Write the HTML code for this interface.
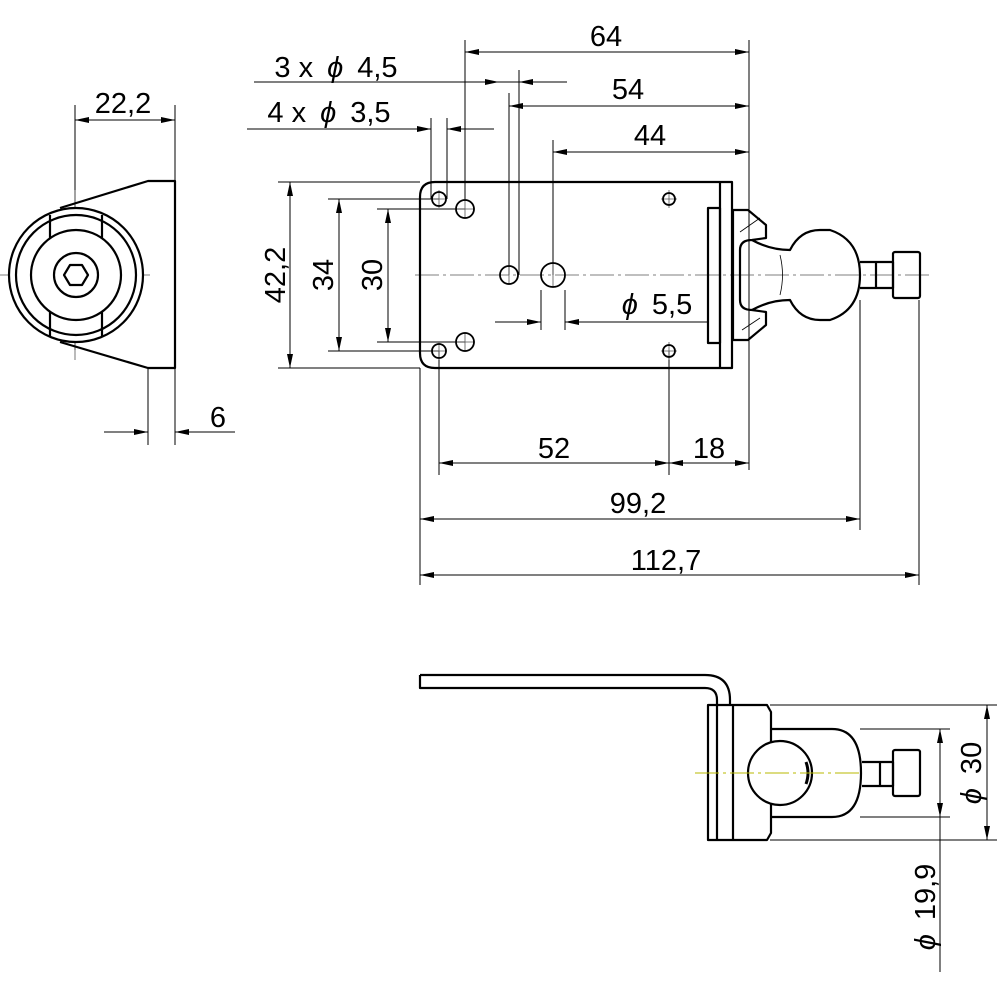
<!DOCTYPE html>
<html><head><style>body{margin:0;background:#fff}svg{display:block}</style></head><body>
<svg width="1000" height="1000" viewBox="0 0 1000 1000" xmlns="http://www.w3.org/2000/svg" font-family="Liberation Sans, DejaVu Sans, sans-serif">
<defs>
<marker id="a" viewBox="0 0 14 6" refX="14" refY="3" markerWidth="14" markerHeight="6" markerUnits="userSpaceOnUse" orient="auto-start-reverse"><path d="M0,0L14,3L0,6z" fill="#000"/></marker>
</defs>
<g stroke="#000" stroke-width="1" fill="none">
<path d="M465,40V200M749,40V470M509,93V275M519,70V275M553,140V275M431,118V199M447,118V199M75,105V350M175,105V181M148,368V445M175,368V445M420,368V585M439,351V475M669,351V475M860,300V530M919,300V585M278,182H420M328,199H439M377,209H465M278,368H420M328,351H439M377,342H465M541,290V330M565,290V330M770,705H997M770,840H997M860,729H950M860,817H950M940,817V972"/>
<path stroke="#555" stroke-width="0.8" stroke-dasharray="24,4,3,4" d="M0,275H150M415,275H930"/>
<path stroke="#555" stroke-width="0.8" d="M75,190V360M439,190V208M439,342V360M669,190V208M669,342V360M465,199V219M455,209H475M465,332V352M455,342H475M509,265V285M553,263V287M661,199H677M661,351H677M431,199H447M431,351H447"/>
<path d="M465,52H749" marker-start="url(#a)" marker-end="url(#a)"/>
<path d="M509,106H749" marker-start="url(#a)" marker-end="url(#a)"/>
<path d="M553,152H749" marker-start="url(#a)" marker-end="url(#a)"/>
<path d="M254,82H499" marker-end="url(#a)"/><path d="M567,82H519" marker-end="url(#a)"/><path d="M499,82H519"/>
<path d="M247,129H431" marker-end="url(#a)"/><path d="M494,129H447" marker-end="url(#a)"/>
<path d="M290,182V368" marker-start="url(#a)" marker-end="url(#a)"/>
<path d="M339,199V351" marker-start="url(#a)" marker-end="url(#a)"/>
<path d="M388,209V342" marker-start="url(#a)" marker-end="url(#a)"/>
<path d="M495,322H541" marker-end="url(#a)"/><path d="M708,322H565" marker-end="url(#a)"/>
<path d="M75,120H175" marker-start="url(#a)" marker-end="url(#a)"/>
<path d="M104,432H148" marker-end="url(#a)"/><path d="M235,432H175" marker-end="url(#a)"/>
<path d="M439,463H669" marker-start="url(#a)" marker-end="url(#a)"/>
<path d="M669,463H749" marker-start="url(#a)" marker-end="url(#a)"/>
<path d="M420,519H860" marker-start="url(#a)" marker-end="url(#a)"/>
<path d="M420,575H919" marker-start="url(#a)" marker-end="url(#a)"/>
<path d="M987,705V840" marker-start="url(#a)" marker-end="url(#a)"/>
<path d="M940,729V817" marker-start="url(#a)" marker-end="url(#a)"/>
</g>
<g stroke="#000" stroke-width="2.2" fill="none" stroke-linejoin="round">
<path d="M60,208L148,181H175V368H148L60,342"/>
<circle cx="76" cy="275" r="67" fill="#fff"/>
<circle cx="76" cy="275" r="60"/>
<path d="M50,215V243M102,215V243M50,307V336M102,307V336" />
<circle cx="76" cy="275" r="45" fill="#fff"/>
<circle cx="76" cy="275" r="22"/>
<path d="M88,275L82,285H70L64,275L70,265H82Z"/>
<path d="M435,182H732V368H435Q420,368 420,353V197Q420,182 435,182Z"/>
<path d="M720,182V368"/>
<g stroke-width="1.8"><circle cx="439" cy="199" r="7"/><circle cx="439" cy="351" r="7"/><circle cx="669" cy="199" r="6"/><circle cx="669" cy="351" r="6"/>
<circle cx="465" cy="209" r="9"/><circle cx="465" cy="342" r="9"/><circle cx="509" cy="275" r="9"/><circle cx="553" cy="275" r="12"/></g>
<rect x="708" y="208" width="12" height="135"/>
<path d="M733,210H748L766,225V238L752,240Q740,240 740,250V300Q740,310 752,310L766,312V325L748,340H733Z"/>
<path d="M752,240Q770,250 790,250Q800,230 820,230H830Q860,240 860,275Q860,310 830,320H820Q800,320 790,300Q770,300 752,310"/>
<path d="M860,262H893V288H860M876,262V288"/>
<rect x="893" y="252" width="27" height="46" rx="2"/>
<path stroke-width="0.8" d="M780,255Q785,275 780,295M740,232L760,218M742,330L760,318"/>
<path d="M420,675H705Q730,675 730,700V705M420,675V688H705Q717,688 717,700V705"/>
<path d="M708,705H767L771,712V833L767,840H708Z"/>
<path d="M717,705V840M733,705V840"/>
<path d="M772,729H832Q861,729 861,773Q861,817 832,817H772"/>
<circle cx="780" cy="773" r="32" fill="#fff"/>
<path d="M806,762Q810,773 806,784" stroke-width="3"/>
<path d="M862,762H893V786H862M880,762V786"/>
<rect x="893" y="750" width="27" height="46" rx="2"/>
</g>
<path d="M695,773H860" stroke="#b8b800" stroke-width="1" stroke-dasharray="24,4,3,4"/>
<g font-size="29" fill="#000" text-anchor="middle">
<text x="606" y="46">64</text>
<text x="628" y="99">54</text>
<text x="650" y="145">44</text>
<text x="336" y="77">3 x<tspan dx="14" font-style="italic">ϕ</tspan><tspan dx="14">4,5</tspan></text>
<text x="329" y="122">4 x<tspan dx="14" font-style="italic">ϕ</tspan><tspan dx="14">3,5</tspan></text>
<text x="123" y="113">22,2</text>
<text x="218" y="427">6</text>
<text x="554" y="458">52</text>
<text x="709" y="458">18</text>
<text x="638" y="513">99,2</text>
<text x="666" y="570">112,7</text>
<text x="657" y="314"><tspan font-style="italic">ϕ</tspan><tspan dx="14">5,5</tspan></text>
<text transform="translate(285,275) rotate(-90)">42,2</text>
<text transform="translate(333,275) rotate(-90)">34</text>
<text transform="translate(382,275) rotate(-90)">30</text>
<text transform="translate(981,773) rotate(-90)"><tspan font-style="italic">ϕ</tspan><tspan dx="14">30</tspan></text>
<text transform="translate(935,907) rotate(-90)"><tspan font-style="italic">ϕ</tspan><tspan dx="14">19,9</tspan></text>
</g>
</svg>
</body></html>
